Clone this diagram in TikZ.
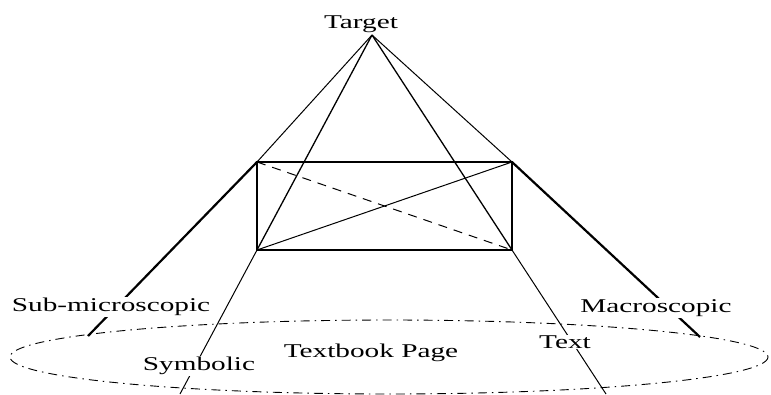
\documentclass[tikz,border=0pt]{standalone}
\usepackage{fontspec}
\setmainfont{Liberation Serif}
\tikzset{
  lbl/.style={font=\fontsize{19.5}{21}\selectfont, inner sep=1pt},
  lblw/.style={lbl, fill=white},
  thinln/.style={line width=1pt},
  midln/.style={line width=1.3pt},
  thickln/.style={line width=2.2pt},
  pageln/.style={line width=0.9pt, dash pattern=on 9pt off 5pt on 1.5pt off 5pt}
}
\newcommand{\wide}[1]{\scalebox{1.5}[1]{#1}}
\begin{document}
\begin{tikzpicture}[x=1pt,y=-1pt]
\useasboundingbox (0,0) rectangle (771,394);
\clip (0,0) rectangle (771,394);
% key points
\coordinate (apex) at (372,35);
\coordinate (tl) at (257,162);
\coordinate (tr) at (512,162);
\coordinate (bl) at (257,250);
\coordinate (br) at (512,250);
\coordinate (lend) at (88,336);
\coordinate (rend) at (700,337);
\coordinate (sbend) at (180,394);
\coordinate (tbend) at (606,394);
% textbook page ellipse
\draw[pageln] (389,357) ellipse [x radius=379, y radius=37];
% rays from target
\draw[thinln] (apex) -- (tl);
\draw[thinln] (apex) -- (tr);
\draw[midln] (apex) -- (bl);
\draw[midln] (apex) -- (br);
\draw[thickln] (tl) -- (lend);
\draw[thickln] (tr) -- (rend);
\draw[thinln] (bl) -- (sbend);
\draw[thinln] (br) -- (tbend);
% rectangle and diagonals
\draw[midln] (tl) rectangle (br);
\draw[thinln] (bl) -- (tr);
\draw[thinln, dash pattern=on 9pt off 7pt] (tl) -- (br);
% labels
\node[lbl] (target) at (361,24) {\wide{Target}};
\node[lblw] (submicro) at (111,307) {\wide{Sub-microscopic}};
\node[lblw] (macro) at (656,308) {\wide{Macroscopic}};
\node[lblw] (symb) at (199,366) {\wide{Symbolic}};
\node[lblw] (text) at (565,342) {\wide{Text}};
\node[lbl] (page) at (371,353) {\wide{Textbook Page}};
\end{tikzpicture}
\end{document}
